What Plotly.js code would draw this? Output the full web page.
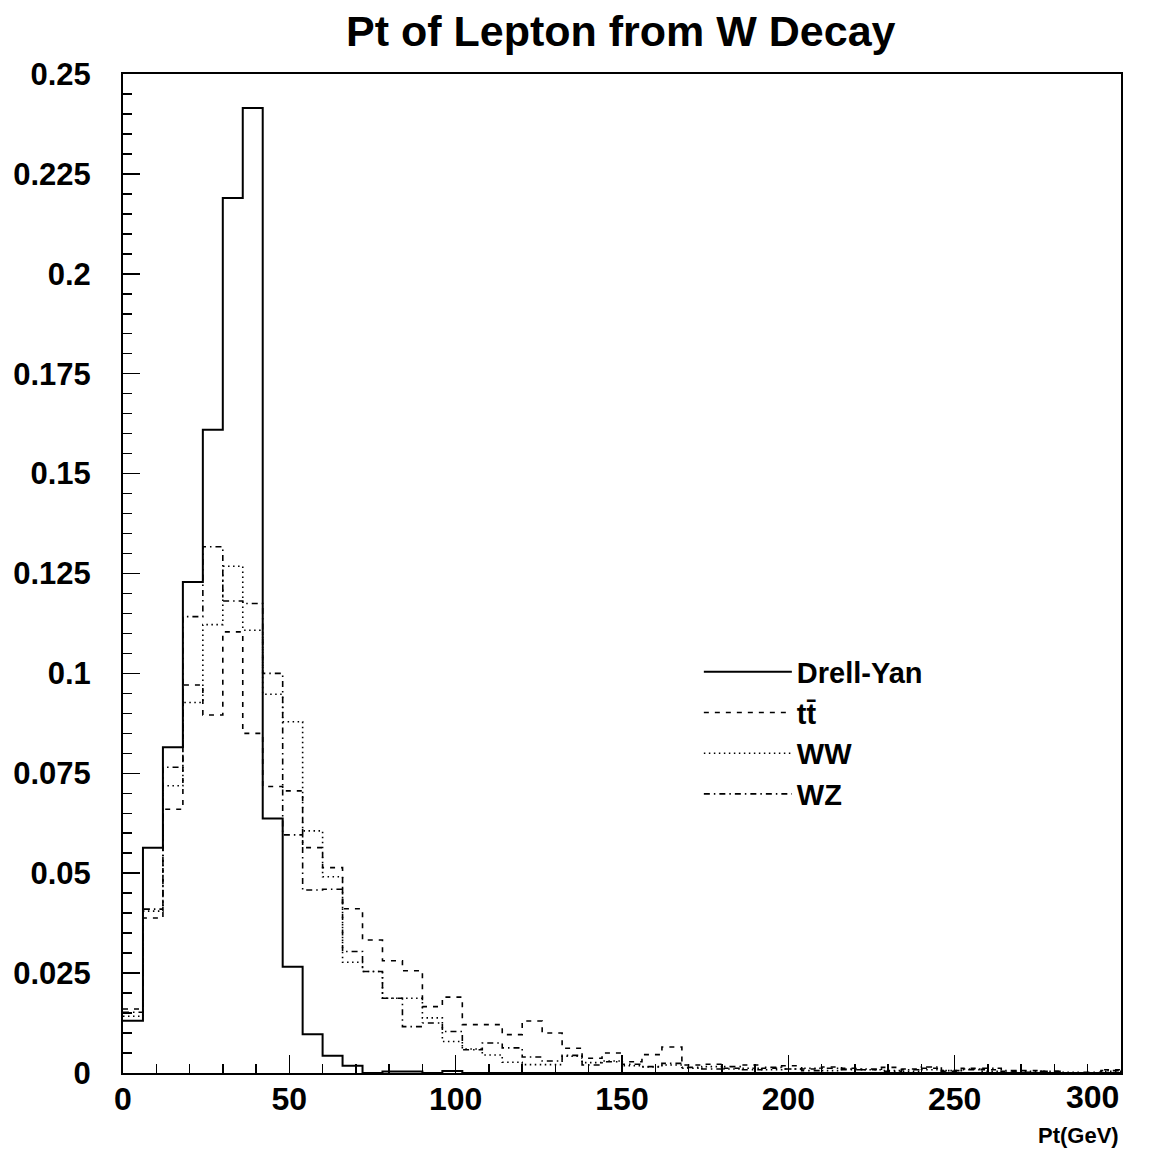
<!DOCTYPE html>
<html>
<head>
<meta charset="utf-8">
<script src="https://cdn.plot.ly/plotly-3.0.1.min.js"></script>
<style>html,body{margin:0;padding:0;background:#fff;}#chart{width:1156px;height:1150px;}</style>
</head>
<body>
<div id="chart"></div>
<script>
// Bin lower edges (GeV), bin width 6 GeV
const binLow = [0,6,12,18,24,30,36,42,48,54,60,66,72,78,84,90,96,102,108,114,120,126,132,138,144,150,156,162,168,174,180,186,192,198,204,210,216,222,228,234,240,246,252,258,264,270,276,282,288,294];
const xMax = 300;

const drellYan = [0.0131,0.0564,0.0815,0.1229,0.161,0.219,0.2415,0.0637,0.0266,0.0097,0.0043,0.0018,0,0.0004,0.0004,0,0.0005,0,0,0,0,0,0,0,0,0,0,0,0,0,0,0,0,0,0,0,0,0,0,0,0,0,0,0,0,0,0,0,0,0];
const ttbar = [0.016,0.0388,0.066,0.0971,0.0896,0.1104,0.085,0.0717,0.0706,0.0564,0.0514,0.0411,0.0333,0.0281,0.0256,0.0166,0.019,0.0121,0.0121,0.0096,0.013,0.01,0.0062,0.0037,0.005,0.0028,0.0046,0.0065,0.002,0.0022,0.0012,0.002,0.0012,0.0018,0.001,0.0015,0.0012,0.0008,0.0014,0.001,0.0012,0.0004,0.0012,0.0008,0.0004,0.0006,0.0004,0,0,0.0008];
const ww = [0.0142,0.0405,0.0719,0.0927,0.1122,0.1268,0.1108,0.0948,0.0879,0.0606,0.0491,0.0277,0.0254,0.0187,0.0187,0.0138,0.0079,0.006,0.0045,0.0027,0.0021,0.0021,0.0042,0.0026,0.003,0.0018,0.0015,0.002,0.0012,0.0016,0.001,0.0012,0.0008,0.001,0.0012,0.0006,0.001,0.0008,0.0006,0.0004,0.0008,0.0006,0.001,0.0004,0.0002,0.0004,0,0.0002,0,0.0004];
const wz = [0.0152,0.041,0.0765,0.1142,0.1317,0.1181,0.1175,0.1,0.0596,0.0458,0.046,0.0304,0.0254,0.0187,0.0116,0.0125,0.0104,0.0058,0.0075,0.0063,0.004,0.003,0.0044,0.002,0.0028,0.0022,0.0016,0.0024,0.0014,0.001,0.0016,0.0008,0.0014,0.001,0.0006,0.0012,0.0008,0.001,0.0004,0.0008,0.0015,0.0006,0.0008,0.0012,0.0006,0.0002,0.0004,0,0.0002,0.0006];

const seriesNames = ["Drell-Yan", "tt\u0304", "WW", "WZ"];
const yTickVals = [0,0.025,0.05,0.075,0.1,0.125,0.15,0.175,0.2,0.225,0.25];
const yTickText = ["0","0.025","0.05","0.075","0.1","0.125","0.15","0.175","0.2","0.225","0.25"];
const xTickVals = [0,50,100,150,200,250];
const xTickText = ["0","50","100","150","200","250"];
const xLastLabel = "300";

const FONT = "'Liberation Sans', Arial, Helvetica, sans-serif";

function stepTrace(vals, name, dash, width, group) {
  const x = binLow.concat([xMax]);
  const y = vals.concat([vals[vals.length - 1]]);
  return {
    type: 'scatter', mode: 'lines', x: x, y: y, name: name,
    legendgroup: group,
    line: {shape: 'hv', color: '#000', width: width, dash: dash},
    hoverinfo: 'skip'
  };
}

const data = [
  stepTrace(drellYan, seriesNames[0], 'solid', 2, 'a'),
  stepTrace(ttbar, seriesNames[1], '5px,6px', 1.6, 'b'),
  stepTrace(ww, seriesNames[2], '1.5px,3.5px', 1.6, 'c'),
  stepTrace(wz, seriesNames[3], '6px,4px,1.5px,4px', 1.6, 'd')
];

const layout = {
  width: 1156, height: 1150,
  margin: {l: 123, r: 35, t: 74, b: 77, pad: 0},
  paper_bgcolor: '#fff', plot_bgcolor: '#fff',
  font: {family: FONT, color: '#000'},
  showlegend: true,
  title: {
    text: 'Pt of Lepton from W Decay',
    font: {family: FONT, size: 43, weight: 'bold', color: '#000'},
    x: 0.537, xanchor: 'center', xref: 'container',
    y: 1 - 31 / 1150, yanchor: 'middle', yref: 'container'
  },
  xaxis: {
    range: [0, 300], showgrid: false, zeroline: false,
    showline: true, mirror: true, linecolor: '#000', linewidth: 2,
    tickmode: 'array', tickvals: xTickVals, ticktext: xTickText,
    ticks: 'inside', ticklen: 18, tickwidth: 1.5, tickcolor: '#000',
    minor: {dtick: 10, ticks: 'inside', ticklen: 9, tickwidth: 1.5, tickcolor: '#000', showgrid: false},
    tickfont: {family: FONT, size: 32, weight: 'bold', color: '#000'},
    ticklabelstandoff: -3
  },
  yaxis: {
    range: [0, 0.25], showgrid: false, zeroline: false,
    showline: true, mirror: true, linecolor: '#000', linewidth: 2,
    tickmode: 'array', tickvals: yTickVals, ticktext: yTickText,
    ticks: 'inside', ticklen: 17, tickwidth: 1.5, tickcolor: '#000',
    minor: {dtick: 0.005, ticks: 'inside', ticklen: 9, tickwidth: 1.5, tickcolor: '#000', showgrid: false},
    tickfont: {family: FONT, size: 31, weight: 'bold', color: '#000'},
    ticklabelstandoff: 24
  },
  legend: {
    x: 0.577, xanchor: 'left', y: 0.427, yanchor: 'top',
    bgcolor: 'rgba(0,0,0,0)', borderwidth: 0,
    font: {family: FONT, size: 29, weight: 'bold', color: '#000'},
    itemwidth: 88, tracegroupgap: 3, traceorder: 'normal'
  },
  annotations: [{
    text: xLastLabel, xref: 'paper', yref: 'paper', x: 1, y: -0.0045,
    xanchor: 'right', yanchor: 'top', showarrow: false,
    font: {family: FONT, size: 32, weight: 'bold', color: '#000'}
  }, {
    text: 'Pt(GeV)', xref: 'paper', yref: 'paper', x: 1, y: -0.063,
    xanchor: 'right', yanchor: 'middle', showarrow: false,
    font: {family: FONT, size: 22, weight: 'bold', color: '#000'}
  }]
};

// major tick at 300 (label drawn right-aligned like the reference)
layout.xaxis.tickvals = xTickVals.concat([xMax]);
layout.xaxis.ticktext = xTickText.concat([""]);

Plotly.newPlot('chart', data, layout, {displayModeBar: false, staticPlot: true});
</script>
</body>
</html>
